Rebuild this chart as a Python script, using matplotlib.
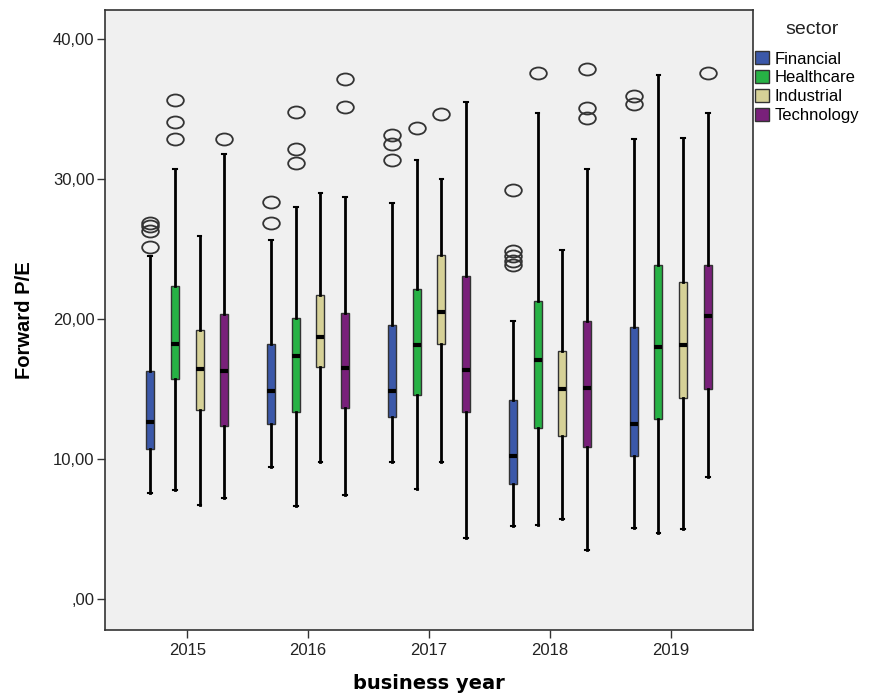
import matplotlib
matplotlib.use("Agg")
import matplotlib.pyplot as plt
from matplotlib.patches import Patch
from matplotlib.path import Path
from matplotlib.transforms import Affine2D

plt.rcParams['font.family'] = ['Liberation Sans', 'DejaVu Sans']

# ---- data ----
years = ['2015', '2016', '2017', '2018', '2019']
sectors = ['Financial', 'Healthcare', 'Industrial', 'Technology']
colors = ['#3b58a9', '#27b245', '#d6d197', '#79207a']

# per sector: one value per year
fin_lo = [7.6, 9.45, 9.8, 5.2, 5.1]
fin_q1 = [10.7, 12.55, 13.05, 8.25, 10.2]
fin_med = [12.65, 14.85, 14.9, 10.2, 12.5]
fin_q3 = [16.3, 18.2, 19.6, 14.25, 19.45]
fin_hi = [24.5, 25.7, 28.3, 19.85, 32.9]
fin_out = [[25.15, 26.3, 26.65, 26.9], [26.9, 28.4], [31.4, 32.5, 33.15],
           [23.85, 24.2, 24.55, 24.85, 29.25], [35.35, 35.95]]

hc_lo = [7.8, 6.65, 7.9, 5.3, 4.75]
hc_q1 = [15.75, 13.4, 14.6, 12.2, 12.9]
hc_med = [18.25, 17.35, 18.15, 17.1, 18.05]
hc_q3 = [22.4, 20.1, 22.15, 21.3, 23.9]
hc_hi = [30.75, 28.05, 31.4, 34.75, 37.45]
hc_out = [[32.85, 34.1, 35.7], [31.15, 32.15, 34.8], [33.65], [37.6], []]

ind_lo = [6.7, 9.8, 9.8, 5.75, 5.0]
ind_q1 = [13.55, 16.6, 18.2, 11.65, 14.4]
ind_med = [16.45, 18.7, 20.5, 15.0, 18.15]
ind_q3 = [19.25, 21.75, 24.6, 17.75, 22.7]
ind_hi = [25.95, 29.0, 30.0, 24.95, 32.95]
ind_out = [[], [], [34.65], [], []]

tech_lo = [7.25, 7.45, 4.35, 3.5, 8.7]
tech_q1 = [12.35, 13.65, 13.35, 10.9, 15.05]
tech_med = [16.3, 16.5, 16.4, 15.1, 20.25]
tech_q3 = [20.35, 20.45, 23.1, 19.9, 23.85]
tech_hi = [31.8, 28.75, 35.5, 30.75, 34.75]
tech_out = [[32.85], [35.2, 37.15], [], [34.35, 35.1, 37.85], [37.6]]

table = [
    (fin_lo, fin_q1, fin_med, fin_q3, fin_hi, fin_out),
    (hc_lo, hc_q1, hc_med, hc_q3, hc_hi, hc_out),
    (ind_lo, ind_q1, ind_med, ind_q3, ind_hi, ind_out),
    (tech_lo, tech_q1, tech_med, tech_q3, tech_hi, tech_out),
]

# open ellipse marker like SPSS
oval = Path.unit_circle().transformed(Affine2D().scale(1.0, 0.72))

fig = plt.figure(figsize=(8.7, 6.93), dpi=100)
ax = fig.add_axes([0.1207, 0.0909, 0.7448, 0.8947])
ax.set_facecolor('#f0f0f0')

step = 0.204
width = 0.066
for k, (lo, q1, med, q3, hi, out) in enumerate(table):
    stats = []
    for i in range(len(years)):
        stats.append(dict(whislo=lo[i], q1=q1[i], med=med[i], q3=q3[i],
                          whishi=hi[i], fliers=out[i]))
    pos = [i + (k - 1.5) * step for i in range(len(years))]
    ax.bxp(stats, positions=pos, widths=width, capwidths=0.03,
           showfliers=True, patch_artist=True,
           boxprops=dict(facecolor=colors[k], edgecolor='#333333', linewidth=1.0),
           whiskerprops=dict(color='black', linewidth=2.0),
           capprops=dict(color='black', linewidth=1.5),
           medianprops=dict(color='black', linewidth=3.0),
           flierprops=dict(marker=oval, markersize=12, markerfacecolor='none',
                           markeredgecolor='#333333', markeredgewidth=1.3,
                           linestyle='none'))

ax.set_xlim(-0.68, 4.68)
ax.set_ylim(-2.2, 42.1)
ax.set_xticks(range(len(years)))
ax.set_xticklabels(years, fontsize=12)
ax.set_yticks([0, 10, 20, 30, 40])
ax.set_yticklabels([',00', '10,00', '20,00', '30,00', '40,00'], fontsize=12)
ax.tick_params(axis='both', direction='out', length=6, width=1.0, colors='#333333',
               labelcolor='#222222')
ax.tick_params(axis='x', pad=3)
ax.tick_params(axis='y', pad=1.5)
for s in ax.spines.values():
    s.set_color('#333333')
    s.set_linewidth(1.2)

ax.set_xlabel('business year', fontsize=14, fontweight='bold', family='DejaVu Sans')
ax.xaxis.set_label_coords(0.5, -0.071)
ax.set_ylabel('Forward P/E', fontsize=14.5, fontweight='bold')
ax.yaxis.set_label_coords(-0.11, 0.5)

# legend to the right, title drawn separately
fig.text(812 / 870, 1 - 29 / 693, 'sector', ha='center', va='center', fontsize=14,
         color='#222222')
handles = [Patch(facecolor=c, edgecolor='#333333', linewidth=1.0) for c in colors]
fig.legend(handles, sectors, loc='upper left', bbox_to_anchor=(0.8678, 0.9257),
           frameon=False, fontsize=12, handlelength=0.85, handleheight=0.8,
           handletextpad=0.35, labelspacing=0.22, borderpad=0.0,
           borderaxespad=0.0)

fig.savefig('out.png', dpi=100)
